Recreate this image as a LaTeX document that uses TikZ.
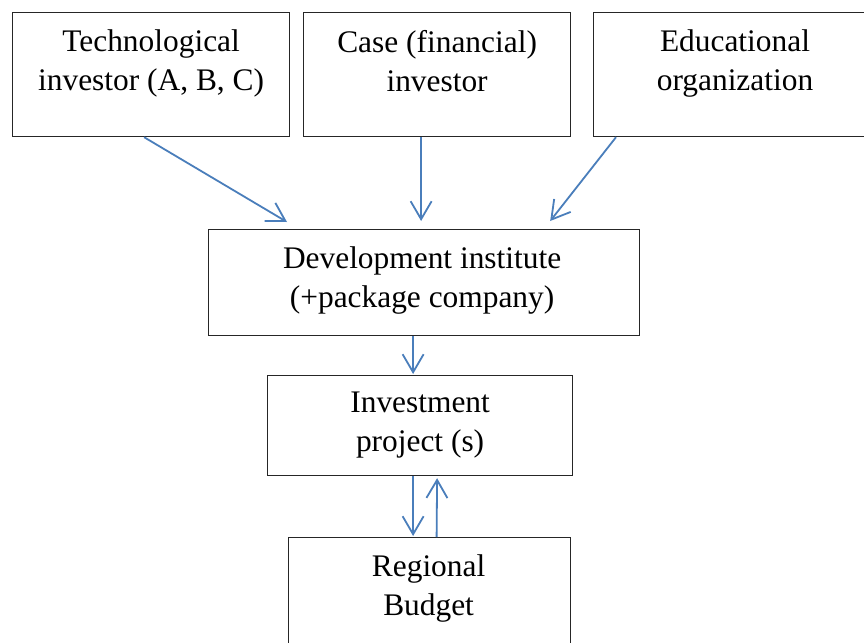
\documentclass[tikz,border=0pt]{standalone}
\usepackage{fontspec}
\setmainfont{Liberation Serif}
\usepackage{xcolor}
\usepackage{tikz}
\usetikzlibrary{arrows.meta,calc}
\definecolor{linkblue}{RGB}{74,126,187}
\tikzset{
  box/.style={draw=black!85, line width=1.2pt, anchor=north west, inner sep=0pt},
  txt/.style={anchor=north, align=center, inner sep=0pt, yshift=-18pt,
    font=\fontsize{31.4}{39}\selectfont},
  arrow/.style={draw=linkblue, line width=1.8pt,
    -{Straight Barb[length=18pt, width=21pt, line width=1.8pt]}}
}

\begin{document}
\begin{tikzpicture}[x=1pt, y=1pt]
    \path[use as bounding box, clip] (0,0) rectangle (864,-642);
    % Top row
    \node[box, minimum width=277pt, minimum height=124pt] (tech) at (12,-12) {};
    \node[box, minimum width=267pt, minimum height=124pt] (case) at (303,-12) {};
    \node[box, minimum width=287pt, minimum height=124pt] (edu) at (593,-12) {};
    \node[txt] (tech-txt) at (tech.north) {Technological\\investor (A, B, C)};
    \node[txt] (case-txt) at (case.north) {Case (financial)\\investor};
    \node[txt] (edu-txt) at ($(edu.north west)+(142,0)$) {Educational\\organization};
    % Middle
    \node[box, minimum width=431pt, minimum height=106pt] (dev) at (208,-229) {};
    \node[txt] (dev-txt) at ($(dev.north)+(-2,0)$) {Development institute\\(+package company)};
    \node[box, minimum width=305pt, minimum height=100pt] (inv) at (267,-375) {};
    \node[txt, yshift=1pt] (inv-txt) at (inv.north) {Investment\\project (s)};
    \node[box, minimum width=282pt, minimum height=125pt] (reg) at (288,-537) {};
    \node[txt] (reg-txt) at ($(reg.north)+(-1,0)$) {Regional\\Budget};
    % Arrows
    \draw[arrow] ($(tech.south)+(-7,0)$) -- ($(dev.north west)+(79,7)$);
    \draw[arrow] ($(case.south)+(-16,0)$) -- ($(case.south |- dev.north)+(-16,8)$);
    \draw[arrow] ($(edu.south west)+(23,0)$) -- ($(dev.north east)+(-90,8)$);
    \draw[arrow] ($(dev.south)+(-11,0)$) -- ($(dev.south |- inv.north)+(-11,1)$);
    \draw[arrow] ($(inv.south)+(-7,0)$) -- ($(inv.south |- reg.north)+(-7,1)$);
    \draw[arrow] ($(reg.north)+(7,0)$) -- ($(inv.south)+(17,-2)$);
  \end{tikzpicture}
\end{document}
